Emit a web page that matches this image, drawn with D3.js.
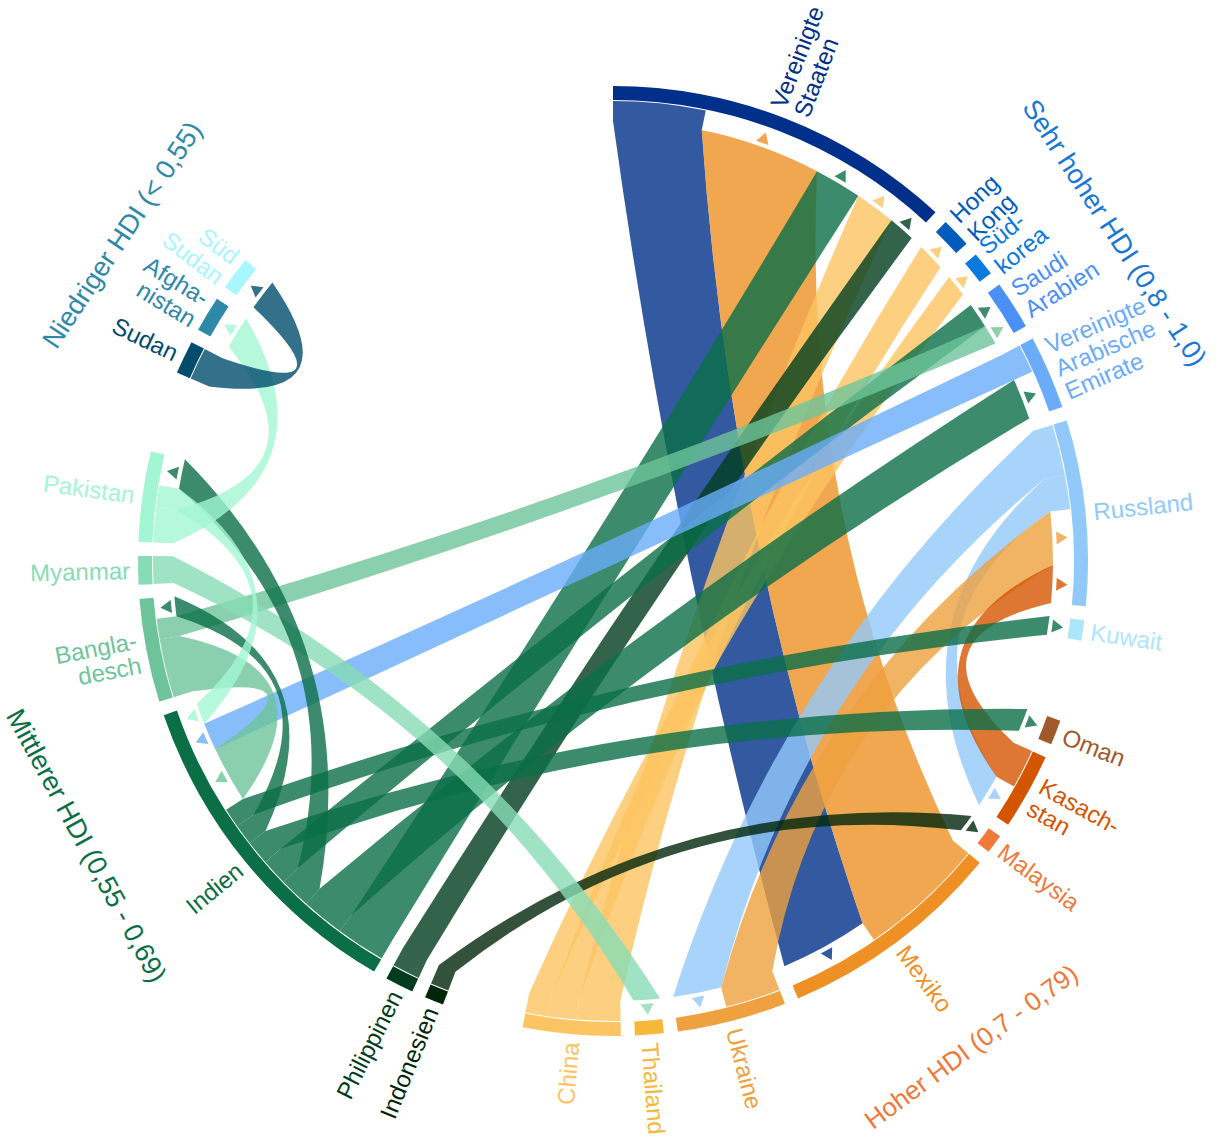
<!DOCTYPE html>
<html>
<head>
<meta charset="utf-8">
<script src="https://cdn.jsdelivr.net/npm/d3@7"></script>
<style>
  body { margin: 0; background: #fff; }
  svg text { font-family: "Liberation Sans", Arial, sans-serif; }
</style>
</head>
<body>
<svg id="chart" width="1229" height="1143"></svg>
<script>
// countries in clockwise order, starting at 12 o'clock
const countries = ["Vereinigte Staaten", "Hong Kong", "Südkorea", "Saudi-Arabien", "Vereinigte Arabische Emirate",
  "Russland", "Kuwait", "Oman", "Kasachstan", "Malaysia", "Mexiko", "Ukraine", "Thailand", "China",
  "Indonesien", "Philippinen", "Indien", "Bangladesch", "Myanmar", "Pakistan", "Sudan", "Afghanistan", "Südsudan"];

// label lines as printed on the chart
const countryLabels = [["Vereinigte", "Staaten"], ["Hong", "Kong"], ["Süd-", "korea"], ["Saudi", "Arabien"],
  ["Vereinigte", "Arabische", "Emirate"], ["Russland"], ["Kuwait"], ["Oman"], ["Kasach-", "stan"], ["Malaysia"],
  ["Mexiko"], ["Ukraine"], ["Thailand"], ["China"], ["Indonesien"], ["Philippinen"], ["Indien"],
  ["Bangla-", "desch"], ["Myanmar"], ["Pakistan"], ["Sudan"], ["Afgha-", "nistan"], ["Süd", "Sudan"]];

// HDI group of every country
const countryGroup = [0, 0, 0, 0, 0, 0, 0, 1, 1, 1, 1, 1, 1, 1, 2, 2, 2, 2, 2, 2, 3, 3, 3];
const groupNames = ["Sehr hoher HDI (0,8 - 1,0)", "Hoher HDI (0,7 - 0,79)", "Mittlerer HDI (0,55 - 0,69)", "Niedriger HDI (< 0,55)"];

// migration corridors: origin, destination, migrants (Mio.)
const flows = [
  ["Vereinigte Staaten", "Mexiko", 8.0],
  ["Mexiko", "Vereinigte Staaten", 11.0],
  ["Indien", "Vereinigte Staaten", 4.3],
  ["China", "Vereinigte Staaten", 3.7],
  ["Philippinen", "Vereinigte Staaten", 2.4],
  ["China", "Hong Kong", 2.5],
  ["China", "Südkorea", 2.0],
  ["Indien", "Saudi-Arabien", 2.3],
  ["Bangladesch", "Saudi-Arabien", 1.8],
  ["Vereinigte Arabische Emirate", "Indien", 2.5],
  ["Indien", "Vereinigte Arabische Emirate", 3.7],
  ["Russland", "Ukraine", 4.4],
  ["Russland", "Kasachstan", 3.0],
  ["Ukraine", "Russland", 4.8],
  ["Kasachstan", "Russland", 3.4],
  ["Indien", "Kuwait", 1.7],
  ["Indien", "Oman", 2.1],
  ["Indonesien", "Malaysia", 1.6],
  ["Myanmar", "Thailand", 2.4],
  ["Indien", "Pakistan", 2.7],
  ["Indien", "Bangladesch", 1.8],
  ["Bangladesch", "Indien", 5.1],
  ["Pakistan", "Indien", 1.9],
  ["Pakistan", "Afghanistan", 3.0],
  ["Sudan", "Südsudan", 2.8]
];

// ---- styles ----
const countryColors = ["#00308a", "#005cbc", "#0a7ade", "#4a90f6", "#6aacfa", "#92c9fb", "#ace6fc",
  "#a0592b", "#d45500", "#ef7a3c", "#ee9024", "#eea13e", "#f5b83a", "#fcc462",
  "#00260a", "#003d1e", "#0a6e47", "#6dc49a", "#87dcb5", "#a3f6d3",
  "#004c6d", "#2e88a8", "#a8f6ff"];
const groupColors = ["#1877d6", "#f07838", "#0a6e47", "#2e88a8"];
const groupLabelAngle = [56.8, 143.6, 241.6, 303.6];   // degrees, clockwise from top
const groupLabelRadius = [600, 603, 598, 590];

const cx = 613, cy = 561;
const rOut = 475, rIn = 461, rRoot = 460, rEnd = 440;
const rad = Math.PI / 180;
const bend = 0.155;   // how far the links sag towards the centre

// value -> angle
const angle = d3.scaleLinear().domain([0, 1]).range([0, 1.4545 * rad]);
const gapSmall = 1.7 * rad, gapGroup = 10 * rad;

const links = flows.map(([from, to, value]) => ({ from, to, value }));

// lay out the sectors: outgoing links first, then incoming, each by size
let a = 0;
const sectors = countries.map((name, i) => {
  if (i > 0) a += countryGroup[i] !== countryGroup[i - 1] ? gapGroup : gapSmall;
  const s = { name, i, start: a };
  links.filter(l => l.from === name).sort((p, q) => q.value - p.value)
    .forEach(l => { l.s0 = a; a += angle(l.value); l.s1 = a; });
  links.filter(l => l.to === name).sort((p, q) => q.value - p.value)
    .forEach(l => { l.t0 = a; a += angle(l.value); l.t1 = a; });
  s.end = a;
  return s;
});
const colorOf = name => countryColors[countries.indexOf(name)];

const pt = (ang, r) => [r * Math.sin(ang), -r * Math.cos(ang)];
const ctrl = (p, q) => [(p[0] + q[0]) / 2 * (1 - 2 * bend), (p[1] + q[1]) / 2 * (1 - 2 * bend)];

// link: root band at the origin (touching the arc), curves run between rEnd on both sides
function linkPath(l) {
  const r0 = pt(l.s0, rRoot), s0 = pt(l.s0, rEnd), s1 = pt(l.s1, rEnd);
  const t0 = pt(l.t0, rEnd), t1 = pt(l.t1, rEnd);
  const p = d3.path();
  p.moveTo(r0[0], r0[1]);
  p.arc(0, 0, rRoot, l.s0 - Math.PI / 2, l.s1 - Math.PI / 2);
  p.lineTo(s1[0], s1[1]);
  const c1 = ctrl(s1, t0);
  p.quadraticCurveTo(c1[0], c1[1], t0[0], t0[1]);
  p.arc(0, 0, rEnd, l.t0 - Math.PI / 2, l.t1 - Math.PI / 2);
  const c2 = ctrl(t1, s0);
  p.quadraticCurveTo(c2[0], c2[1], s0[0], s0[1]);
  p.closePath();
  return p.toString();
}

function arrowPath(l) {
  const m = (l.t0 + l.t1) / 2;
  const tip = pt(m, 455), b = pt(m, 444);
  const tx = Math.cos(m) * 6.5, ty = Math.sin(m) * 6.5;
  return `M${tip[0]},${tip[1]}L${b[0] + tx},${b[1] + ty}L${b[0] - tx},${b[1] - ty}Z`;
}

const svg = d3.select("#chart");
const g = svg.append("g").attr("transform", `translate(${cx},${cy})`);

// links
g.append("g").attr("class", "links")
  .selectAll("path").data(links).join("path")
  .attr("d", linkPath)
  .attr("fill", d => colorOf(d.from))
  .attr("fill-opacity", 0.8);

// arrow heads at the destination
g.append("g").attr("class", "arrows")
  .selectAll("path").data(links).join("path")
  .attr("d", arrowPath)
  .attr("fill", d => colorOf(d.from))
  .attr("fill-opacity", 0.8);

// sector arcs
const arc = d3.arc().innerRadius(rIn).outerRadius(rOut);
g.append("g").attr("class", "sectors")
  .selectAll("path").data(sectors).join("path")
  .attr("d", d => arc({ startAngle: d.start, endAngle: d.end }))
  .attr("fill", d => countryColors[d.i]);

// country labels, radial
const lh = 25;
g.append("g").attr("class", "country-labels")
  .selectAll("text").data(sectors).join("text")
  .each(function (d) {
    const m = (d.start + d.end) / 2, deg = m / rad;
    const right = deg < 180;
    const lines = countryLabels[d.i];
    const t = d3.select(this)
      .attr("transform", `rotate(${right ? deg - 90 : deg + 90})`)
      .attr("text-anchor", right ? "start" : "end")
      .attr("fill", countryColors[d.i])
      .attr("font-size", 24);
    lines.forEach((line, k) => {
      t.append("tspan")
        .attr("x", right ? 483 : -483)
        .attr("y", (k - (lines.length - 1) / 2) * lh)
        .attr("dy", "0.36em")
        .text(line);
    });
  });

// HDI group labels, tangential
g.append("g").attr("class", "group-labels")
  .selectAll("text").data(groupNames).join("text")
  .each(function (name, i) {
    const deg = groupLabelAngle[i];
    const p = pt(deg * rad, groupLabelRadius[i]);
    const rot = deg > 90 && deg < 270 ? deg - 180 : deg;
    d3.select(this)
      .attr("transform", `translate(${p[0]},${p[1]}) rotate(${rot})`)
      .attr("text-anchor", "middle")
      .attr("dy", "0.36em")
      .attr("font-size", i === 1 ? 26 : 27)
      .attr("fill", groupColors[i])
      .text(name);
  });
</script>
</body>
</html>
